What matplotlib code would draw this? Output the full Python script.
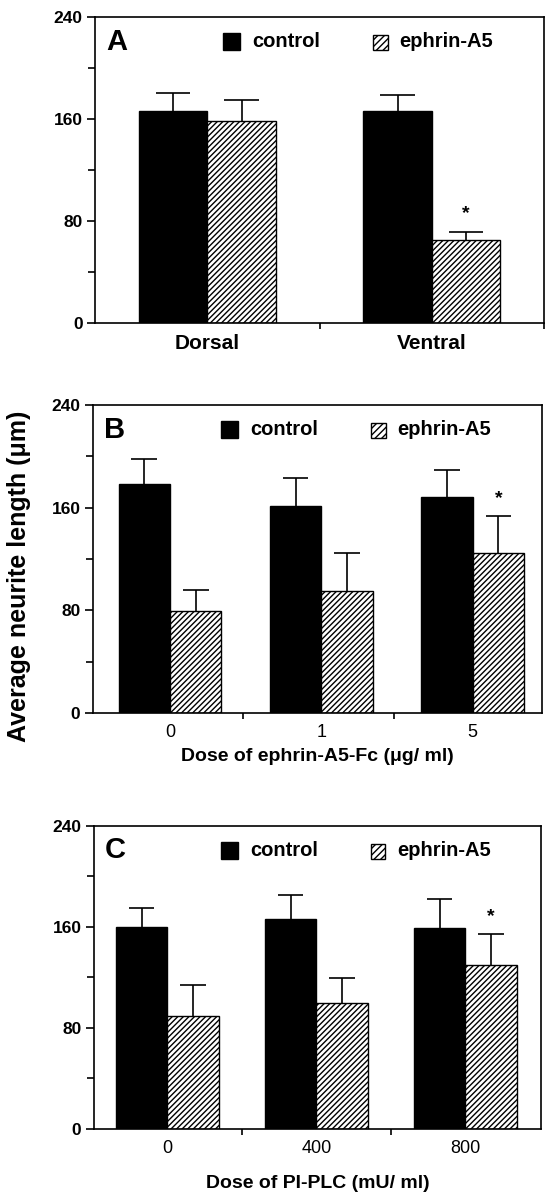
import numpy as np
from matplotlib import pyplot as plt
from matplotlib.patches import Rectangle

plt.rcParams.update({
    "font.family": ["Liberation Sans", "DejaVu Sans"],
    "hatch.linewidth": 1.0,
    "axes.linewidth": 1.2,
})

# panel A
a_groups = ['Dorsal', 'Ventral']
a_control = [166.5, 166.0]
a_control_err = [14.0, 12.5]
a_ephrin = [158.7, 65.2]
a_ephrin_err = [16.5, 6.0]

# panel B
b_groups = ['0', '1', '5']
b_control = [178.4, 161.3, 168.0]
b_control_err = [19.8, 21.8, 21.0]
b_ephrin = [79.7, 94.8, 124.9]
b_ephrin_err = [16.1, 30.1, 28.6]

# panel C
c_groups = ['0', '400', '800']
c_control = [160.3, 166.3, 158.9]
c_control_err = [14.7, 19.0, 23.0]
c_ephrin = [89.2, 99.8, 130.1]
c_ephrin_err = [25.1, 19.5, 24.6]

y_ticks = [0, 80, 160, 240]
y_minor = [40, 120, 200]


def up_errorbars(ax, x, y, err, cap):
    # only the upper half of the error bar, cap on top
    x = np.asarray(x, dtype=float)
    top = np.asarray(y) + np.asarray(err)
    ax.vlines(x, y, top, color='black', linewidth=1.2)
    ax.hlines(top, x - cap, x + cap, color='black', linewidth=1.2)


def draw_panel(ax, letter, centers, width, control, control_err, ephrin, ephrin_err,
               star_idx, star_y, xlim, bounds):
    centers = np.asarray(centers, dtype=float)
    xc = centers - width / 2
    xe = centers + width / 2
    ax.bar(xc, control, width, color='black', edgecolor='black', linewidth=1)
    ax.bar(xe, ephrin, width, color='white', edgecolor='black', hatch='//////',
           linewidth=1)
    up_errorbars(ax, xc, control, control_err, width * 0.25)
    up_errorbars(ax, xe, ephrin, ephrin_err, width * 0.25)
    ax.text(xe[star_idx], star_y, '*', ha='center', va='center', fontsize=14,
            fontweight='bold')

    ax.set_xlim(*xlim)
    ax.set_ylim(0, 240)
    ax.set_yticks(y_ticks)
    ax.set_yticks(y_minor, minor=True)
    ax.set_yticklabels([str(t) for t in y_ticks], fontsize=12.5, fontweight='bold')
    ax.tick_params(axis='y', which='major', direction='out', length=6, width=1.2, pad=3)
    ax.tick_params(axis='y', which='minor', direction='out', length=5, width=1.2)
    ax.set_xticks(centers)
    ax.set_xticks(bounds, minor=True)
    ax.tick_params(axis='x', which='major', length=0, pad=8)
    ax.tick_params(axis='x', which='minor', direction='out', length=4, width=1.2)

    ax.text(0.025, 0.92, letter, transform=ax.transAxes, fontsize=21,
            fontweight='bold', va='center', ha='left')
    # legend
    sq_w, sq_h = 0.037, 0.055
    ax.add_patch(Rectangle((0.285, 0.92 - sq_h / 2), sq_w, sq_h, transform=ax.transAxes,
                           facecolor='black', edgecolor='black', clip_on=False))
    ax.text(0.35, 0.92, 'control', transform=ax.transAxes, fontsize=14.5,
            fontweight='bold', va='center', ha='left')
    ax.add_patch(Rectangle((0.62, 0.92 - sq_h / 2), 0.032, 0.048, transform=ax.transAxes,
                           facecolor='white', edgecolor='black', hatch='/////',
                           clip_on=False))
    ax.text(0.678, 0.92, 'ephrin-A5', transform=ax.transAxes, fontsize=14.5,
            fontweight='bold', va='center', ha='left')


fig = plt.figure(figsize=(5.48, 12), dpi=100)

axA = fig.add_axes([0.1734, 0.7308, 0.8193, 0.255])
draw_panel(axA, 'A', [1, 3], 0.61, a_control, a_control_err, a_ephrin, a_ephrin_err,
           1, 86, (0, 4), [2, 4])
axA.set_xticklabels(a_groups, fontsize=15, fontweight='bold')

axB = fig.add_axes([0.1697, 0.4058, 0.8193, 0.2567])
draw_panel(axB, 'B', [0, 1, 2], 0.34, b_control, b_control_err, b_ephrin, b_ephrin_err,
           2, 167, (-0.509, 2.458), [0.48, 1.48])
axB.set_xticklabels(b_groups, fontsize=13)
axB.set_xlabel('Dose of ephrin-A5-Fc (μg/ ml)', fontsize=14, fontweight='bold',
               labelpad=5)

axC = fig.add_axes([0.1715, 0.0592, 0.8157, 0.2525])
draw_panel(axC, 'C', [0, 1, 2], 0.345, c_control, c_control_err, c_ephrin, c_ephrin_err,
           2, 168, (-0.492, 2.508), [0.5, 1.5])
axC.set_xticklabels(c_groups, fontsize=13)
axC.set_xlabel('Dose of PI-PLC (mU/ ml)', fontsize=14, fontweight='bold',
               labelpad=13)

fig.text(0.035, 0.52, 'Average neurite length (μm)', rotation=90, fontsize=18,
         fontweight='bold', ha='center', va='center')

fig.savefig('out.png', dpi=100)
